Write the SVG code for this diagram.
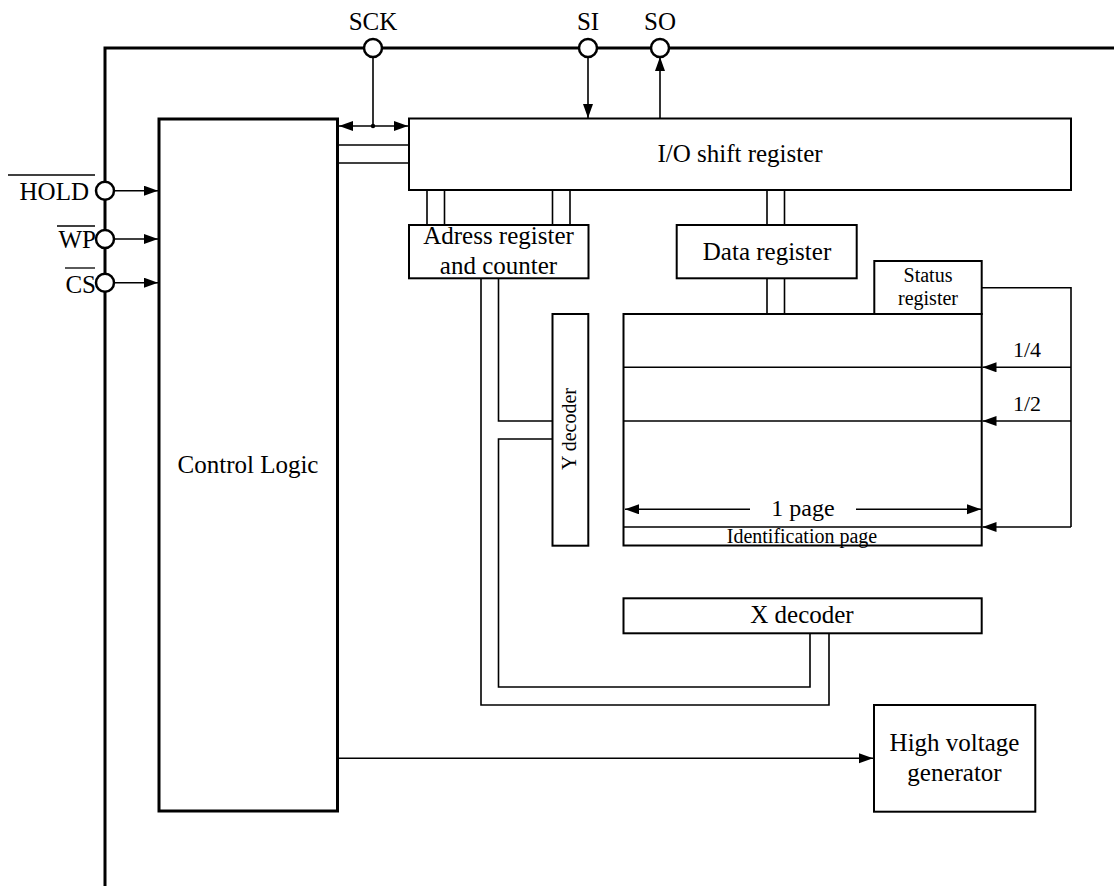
<svg xmlns="http://www.w3.org/2000/svg" width="1114" height="896" viewBox="0 0 1114 896">
<style>
text{font-family:"Liberation Serif","Times New Roman",serif;fill:#000}
.t25{font-size:25px}
.t24{font-size:24px}
.t22{font-size:22px}
.t20{font-size:20px}
.mid{text-anchor:middle}
.end{text-anchor:end}
.box{fill:#fff;stroke:#000;stroke-width:2}
.thick{fill:none;stroke:#000;stroke-width:3}
.ln{fill:none;stroke:#000;stroke-width:1.6}
.pin{fill:#fff;stroke:#000;stroke-width:2.5}
.arr{marker-end:url(#ah)}
.dbl{marker-start:url(#ah);marker-end:url(#ah)}
</style>
<defs>
<marker id="ah" markerUnits="userSpaceOnUse" markerWidth="15" markerHeight="11" refX="14" refY="5" orient="auto-start-reverse">
<path d="M0,0 L14,5 L0,10 z" fill="#000"/>
</marker>
</defs>
<rect width="1114" height="896" fill="#fff"/>

<g id="connectors">
<path class="thick" d="M105,886 V48 H1114"/>
<line class="ln" x1="373" y1="57" x2="373" y2="126"/>
<path class="ln dbl" d="M339,126 H408"/>
<circle cx="373" cy="126" r="2.2" fill="#000"/>
<line class="ln arr" x1="588" y1="57" x2="588" y2="118"/>
<line class="ln arr" x1="660" y1="118" x2="660" y2="57"/>
<line class="ln" x1="338" y1="145" x2="409" y2="145"/>
<line class="ln" x1="338" y1="163" x2="409" y2="163"/>
<line class="ln arr" x1="114" y1="190.7" x2="158" y2="190.7"/>
<line class="ln arr" x1="114" y1="239" x2="158" y2="239"/>
<line class="ln arr" x1="114" y1="282.7" x2="158" y2="282.7"/>
<path class="ln" d="M427,190 V225 M444.5,190 V225 M552.5,190 V225 M570,190 V225 M767,190 V225 M784.5,190 V225"/>
<path class="ln" d="M767,278 V314 M784.5,278 V314"/>
<path class="ln" d="M498.5,278 V421 H552.5"/>
<path class="ln" d="M552.5,439 H498.5 V687 H810 V633"/>
<path class="ln" d="M481,278 V705 H829 V633"/>
<path class="ln" d="M981.7,287.7 H1071 V527"/>
<line class="ln arr" x1="1071" y1="367.3" x2="982.5" y2="367.3"/>
<line class="ln arr" x1="1071" y1="421" x2="982.5" y2="421"/>
<line class="ln arr" x1="1071" y1="527" x2="982.5" y2="527"/>
<line class="ln arr" x1="338" y1="758.3" x2="873" y2="758.3"/>
</g>

<g id="pin-sck"><circle class="pin" cx="373" cy="48" r="9"/><text class="t25 mid" x="373" y="30">SCK</text></g>
<g id="pin-si"><circle class="pin" cx="588" cy="48" r="9"/><text class="t25 mid" x="588" y="30">SI</text></g>
<g id="pin-so"><circle class="pin" cx="660" cy="48" r="9"/><text class="t25 mid" x="660" y="30">SO</text></g>
<g id="pin-hold"><circle class="pin" cx="105" cy="190.7" r="9"/><text class="t25 end" x="89" y="200">HOLD</text><line x1="8" y1="175" x2="95" y2="175" stroke="#000" stroke-width="1.3"/></g>
<g id="pin-wp"><circle class="pin" cx="105" cy="239" r="9"/><text class="t25 end" x="96" y="248.3">WP</text><line x1="57" y1="226" x2="95" y2="226" stroke="#000" stroke-width="1.3"/></g>
<g id="pin-cs"><circle class="pin" cx="105" cy="282.7" r="9"/><text class="t25 end" x="96" y="292.7">CS</text><line x1="65" y1="268" x2="95" y2="268" stroke="#000" stroke-width="1.3"/></g>

<g id="control-logic"><rect x="159" y="119" width="178.5" height="692" fill="#fff" stroke="#000" stroke-width="3"/><text class="t25 mid" x="248" y="473">Control Logic</text></g>
<g id="io-shift-register"><rect class="box" x="409" y="118.5" width="662" height="71.5"/><text class="t25 mid" x="740" y="162">I/O shift register</text></g>
<g id="address-register"><rect class="box" x="409" y="225" width="179.5" height="53.3"/><text class="t25 mid" x="498.5" y="244">Adress register</text><text class="t25 mid" x="498.5" y="274">and counter</text></g>
<g id="data-register"><rect class="box" x="676.7" y="225" width="180" height="53.3"/><text class="t25 mid" x="767" y="260">Data register</text></g>
<g id="status-register"><rect class="box" x="874.3" y="261" width="107.4" height="53"/><text class="t20 mid" x="928" y="282">Status</text><text class="t20 mid" x="928" y="305">register</text></g>
<g id="y-decoder"><rect class="box" x="552.5" y="314" width="35.8" height="231.7"/><text class="t20 mid" transform="translate(576,429) rotate(-90)">Y decoder</text></g>
<g id="memory-array">
<rect class="box" x="623.5" y="314" width="358.2" height="231.5"/>
<path class="ln" d="M623.5,367.3 H981.7 M623.5,421 H981.7 M623.5,527 H981.7"/>
<line class="ln arr" x1="750" y1="509.3" x2="625" y2="509.3"/>
<line class="ln arr" x1="856" y1="509.3" x2="981" y2="509.3"/>
<text class="t24 mid" x="803" y="516">1 page</text>
<text class="t20 mid" x="802" y="542.7">Identification page</text>
<text class="t22 mid" x="1027" y="357">1/4</text>
<text class="t22 mid" x="1027" y="411">1/2</text>
</g>
<g id="x-decoder"><rect class="box" x="623.5" y="598.3" width="358.2" height="35"/><text class="t25 mid" x="802" y="623.3">X decoder</text></g>
<g id="high-voltage-generator"><rect class="box" x="874" y="705" width="161.3" height="106.7"/><text class="t25 mid" x="954.5" y="751">High voltage</text><text class="t25 mid" x="954.5" y="780.7">generator</text></g>
</svg>
